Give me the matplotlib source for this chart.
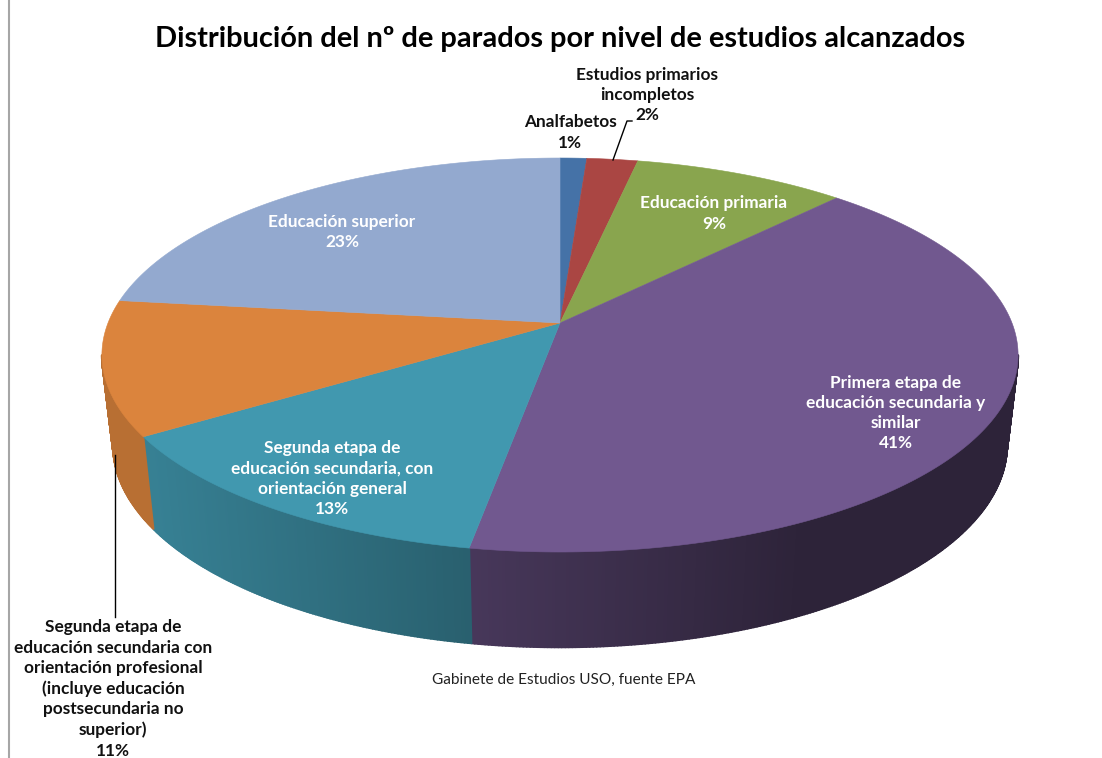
import numpy as np
import matplotlib
matplotlib.use("Agg")
import matplotlib.pyplot as plt
from matplotlib.collections import PolyCollection
from matplotlib.colors import to_rgb

# Data
shares = [1.1, 2.1, 8.8, 40.7, 13.2, 11.0, 23.1]
colors = ["#4572A7", "#AA4643", "#89A54E", "#71588F", "#4198AF", "#DB843D", "#93A9CF"]
labels = [
    "Analfabetos\n1%",
    "Estudios primarios\nincompletos\n2%",
    "Educación primaria\n9%",
    "Primera etapa de\neducación secundaria y\nsimilar\n41%",
    "Segunda etapa de\neducación secundaria, con\norientación general\n13%",
    "Segunda etapa de\neducación secundaria con\norientación profesional\n(incluye educación\npostsecundaria no\nsuperior)\n11%",
    "Educación superior\n23%",
]
label_pos = [(570, 132.5), (647, 95), (714, 213.5), (896, 413), (332, 478.5), (113, 689), (342, 232)]
label_col = ["#111111", "#111111", "white", "white", "white", "#111111", "white"]

title = "Distribución del nº de parados por nivel de estudios alcanzados"
source = "Gabinete de Estudios USO, fuente EPA"

# Projection of the pie, in pixels
CX, CY_TOP, CY_BOT = 560, 323, 412
A_TOP, A_BOT = 452, 441
B_TOP, B_BOT = 191.8, 197
P = 0.1625
FONT = ["Lato", "DejaVu Sans"]


def project(theta, a, b, cy):
    """
    Angle (clockwise from 12 o'clock) to a point of the tilted disc.
    """
    u, v = np.sin(theta), np.cos(theta)
    w = 1 + P * v
    return np.column_stack((CX + a * u / w, cy - b * v / w))


def side_shade(x):
    """
    How dark the side wall is at a given horizontal position.
    """
    return np.interp(x, [152, 470, 800], [0.84, 0.63, 0.40])


def main():
    fig = plt.figure(figsize=(11.02, 7.58), dpi=100)
    ax = fig.add_axes([0, 0, 1, 1])
    ax.set_xlim(0, 1102)
    ax.set_ylim(758, 0)
    ax.axis("off")

    ax.plot([9, 9], [0, 758], color="#a6a6a6", lw=1.5, zorder=1)

    edges = 2 * np.pi * np.cumsum([0] + shares) / sum(shares)
    visible = np.radians([99.4, 260.6])

    # side wall, thin strips so the shading can change along it
    for i, col in enumerate(colors):
        lo, hi = max(edges[i], visible[0]), min(edges[i + 1], visible[1])
        if lo >= hi:
            continue
        t = np.linspace(lo, hi, int((hi - lo) * 150) + 2)
        top = project(t, A_TOP, B_TOP, CY_TOP)
        bot = project(t, A_BOT, B_BOT, CY_BOT)
        quads, face = [], []
        for j in range(len(t) - 1):
            quads.append([top[j], top[j + 1], bot[j + 1], bot[j]])
            face.append(np.array(to_rgb(col)) * side_shade((top[j, 0] + top[j + 1, 0]) / 2))
        ax.add_collection(PolyCollection(quads, facecolors=face, edgecolors=face, linewidths=1.5, zorder=2))

    # top face
    for i, col in enumerate(colors):
        t = np.linspace(edges[i], edges[i + 1], 200)
        rim = project(t, A_TOP, B_TOP, CY_TOP)
        pts = np.vstack(([CX, CY_TOP], rim))
        ax.fill(pts[:, 0], pts[:, 1], facecolor=col, edgecolor=col, lw=0.4, zorder=3)

    # leader lines
    ax.plot([115, 115], [455, 617], color="black", lw=1, zorder=4)
    ax.plot([613, 627, 632], [160, 121, 121], color="black", lw=1, zorder=4)

    for text, pos, col in zip(labels, label_pos, label_col):
        ax.text(pos[0], pos[1], text, color=col, ha="center", va="center", family=FONT,
                fontsize=12.4, fontweight="bold", linespacing=1.333, zorder=5)

    ax.text(560, 39, title, ha="center", va="center", family=FONT, fontsize=20.9,
            fontweight="bold", color="black")
    ax.text(564, 680, source, ha="center", va="center", family=FONT, fontsize=11.1, color="#222222")

    fig.savefig("out.png", dpi=100)


if __name__ == "__main__":
    main()
